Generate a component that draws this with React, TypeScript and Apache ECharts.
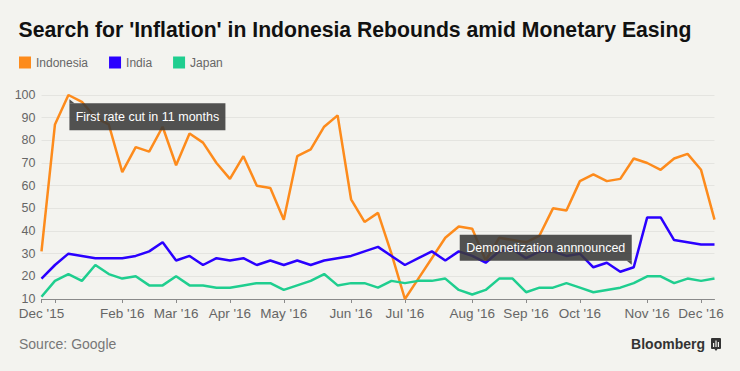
import React, { useEffect, useRef } from "react";
import * as echarts from "echarts";

// 51 weekly observations
const weeks: string[] = Array.from({ length: 51 }, (_, i) => `W${i + 1}`);

const indonesia = [
  31, 87, 100, 97, 90, 87, 66, 77, 75, 86,
  69, 83, 79, 70, 63, 73, 60, 59, 45, 73,
  76, 86, 91, 54, 44, 48, 30, 10, 19, 28,
  37, 42, 41, 27, 37, 36, 35, 38, 50, 49,
  62, 65, 62, 63, 72, 70, 67, 72, 74, 67,
  45,
];
const india = [
  19, 25, 30, 29, 28, 28, 28, 29, 31, 35,
  27, 29, 25, 28, 27, 28, 25, 27, 25, 27,
  25, 27, 28, 29, 31, 33, 29, 25, 28, 31,
  27, 31, 29, 26, 31, 32, 28, 31, 31, 29,
  30, 24, 26, 22, 24, 46, 46, 36, 35, 34,
  34,
];
const japan = [
  11, 18, 21, 18, 25, 21, 19, 20, 16, 16,
  20, 16, 16, 15, 15, 16, 17, 17, 14, 16,
  18, 21, 16, 17, 17, 15, 18, 17, 18, 18,
  19, 14, 12, 14, 19, 19, 13, 15, 15, 17,
  15, 13, 14, 15, 17, 20, 20, 17, 19, 18,
  19,
];

const monthTickIndex = [0, 1, 6, 10, 14, 18, 23, 27, 32, 36, 40, 45, 49];
const monthTickLabels = [
  "Dec '15", "", "Feb '16", "Mar '16", "Apr '16", "May '16", "Jun '16",
  "Jul '16", "Aug '16", "Sep '16", "Oct '16", "Nov '16", "Dec '16",
];

const yMin = 10;
const yMax = 100;
const yInterval = 10;

const seriesNames = ["Indonesia", "India", "Japan"];
const seriesColors = ["#fd8b1c", "#2a00ff", "#1fce8f"];

const annotationTexts = ["First rate cut in 11 months", "Demonetization annnounced"];
const annotationIndex = [2, 44];
const annotationValue = [100, 24];

const FONT = "'Liberation Sans', Arial, Helvetica, sans-serif";
const BG = "#f3f3ef";

export default function App() {
  const ref = useRef<HTMLDivElement>(null);

  useEffect(() => {
    document.body.style.margin = "0";
    document.body.style.background = BG;
    const chart = echarts.init(ref.current!, undefined, { renderer: "svg" });
    const labelFor = (i: number) => {
      const k = monthTickIndex.indexOf(i);
      return k >= 0 ? monthTickLabels[k] : "";
    };
    const allSeries = [indonesia, india, japan];
    chart.setOption({
      animation: false,
      backgroundColor: BG,
      textStyle: { fontFamily: FONT },
      title: {
        text: "Search for 'Inflation' in Indonesia Rebounds amid Monetary Easing",
        left: 18.5,
        top: 19,
        padding: 0,
        textStyle: { fontSize: 21.2, fontWeight: "bold", color: "#111", fontFamily: FONT },
      },
      legend: {
        left: 19,
        top: 56.5,
        padding: 0,
        icon: "rect",
        itemWidth: 12,
        itemHeight: 12,
        itemGap: 21,
        textStyle: { fontSize: 12, color: "#666", fontFamily: FONT },
        data: seriesNames,
      },
      grid: { left: 41.5, right: 25.5, top: 95, bottom: 72 },
      xAxis: {
        type: "category",
        data: weeks,
        boundaryGap: false,
        axisLine: { lineStyle: { color: "#8a8a8a", width: 1 } },
        axisTick: {
          interval: (i: number) => monthTickIndex.includes(i),
          length: 4,
          lineStyle: { color: "#8a8a8a" },
        },
        axisLabel: {
          interval: (i: number) => labelFor(i) !== "",
          formatter: (_v: string, i: number) => labelFor(i),
          fontSize: 13.5,
          color: "#666",
          margin: 7,
          fontFamily: FONT,
        },
        splitLine: { show: false },
      },
      yAxis: {
        type: "value",
        min: yMin,
        max: yMax,
        interval: yInterval,
        axisLine: { show: false },
        axisTick: { show: false },
        axisLabel: { fontSize: 12.5, color: "#666", margin: 6, fontFamily: FONT },
        splitLine: { lineStyle: { color: "#e4e4e0", width: 1 } },
      },
      series: seriesNames.map((name, k) => ({
        name,
        type: "line",
        data: allSeries[k],
        showSymbol: false,
        symbol: "none",
        z: 2,
        color: seriesColors[k],
        lineStyle: { width: 2.5, color: seriesColors[k] },
      })),
    });

    const p1 = chart.convertToPixel({ gridIndex: 0 }, [annotationIndex[0], annotationValue[0]]) as number[];
    const p2 = chart.convertToPixel({ gridIndex: 0 }, [annotationIndex[1], annotationValue[1]]) as number[];
    const boxFill = "rgba(58,58,58,0.88)";
    const b1 = { x: p1[0] + 1, y: p1[1] + 8.3, w: 156, h: 27 };
    const b2w = 172;
    const b2h = 26;
    const b2 = { x: p2[0] - 2 - b2w, y: p2[1] - 6.5 - b2h, w: b2w, h: b2h };
    const Z = 100;

    chart.setOption({
      graphic: [
        { type: "rect", z: Z, shape: { x: b1.x, y: b1.y, width: b1.w, height: b1.h }, style: { fill: boxFill } },
        {
          type: "polygon",
          z: Z,
          shape: { points: [[b1.x, b1.y - 4], [b1.x, b1.y], [b1.x + 5, b1.y]] },
          style: { fill: boxFill },
        },
        {
          type: "text",
          z: Z + 1,
          x: b1.x + b1.w / 2,
          y: b1.y + b1.h / 2,
          style: {
            text: annotationTexts[0],
            fill: "#fff",
            fontSize: 12.5,
            fontFamily: FONT,
            align: "center",
            verticalAlign: "middle",
          },
        },
        { type: "rect", z: Z, shape: { x: b2.x, y: b2.y, width: b2.w, height: b2.h }, style: { fill: boxFill } },
        {
          type: "polygon",
          z: Z,
          shape: {
            points: [
              [b2.x + b2.w - 5, b2.y + b2.h],
              [b2.x + b2.w, b2.y + b2.h],
              [b2.x + b2.w, b2.y + b2.h + 4],
            ],
          },
          style: { fill: boxFill },
        },
        {
          type: "text",
          z: Z + 1,
          x: b2.x + b2.w / 2,
          y: b2.y + b2.h / 2,
          style: {
            text: annotationTexts[1],
            fill: "#fff",
            fontSize: 12.5,
            fontFamily: FONT,
            align: "center",
            verticalAlign: "middle",
          },
        },
        {
          type: "text",
          left: 19,
          top: 337,
          style: { text: "Source: Google", fill: "#777", fontSize: 14, fontFamily: FONT },
        },
        {
          type: "text",
          right: 35,
          top: 337,
          style: { text: "Bloomberg", fill: "#333", fontSize: 14, fontWeight: "bold", fontFamily: FONT },
        },
        {
          type: "group",
          left: 711,
          top: 338,
          children: [
            { type: "rect", shape: { x: 0, y: 0, width: 10, height: 11, r: 1 }, style: { fill: "#333" } },
            { type: "polygon", shape: { points: [[3.5, 11], [6.5, 11], [5, 13]] }, style: { fill: "#333" } },
            { type: "rect", shape: { x: 2, y: 5, width: 1.2, height: 4 }, style: { fill: "#f3f3ef" } },
            { type: "rect", shape: { x: 4.4, y: 2.5, width: 1.2, height: 6.5 }, style: { fill: "#f3f3ef" } },
            { type: "rect", shape: { x: 6.8, y: 4, width: 1.2, height: 5 }, style: { fill: "#f3f3ef" } },
          ],
        },
      ],
    });

    return () => chart.dispose();
  }, []);

  return (
    <div
      ref={ref}
      style={{ position: "fixed", left: 0, top: 0, width: 740, height: 371, background: BG }}
    />
  );
}
